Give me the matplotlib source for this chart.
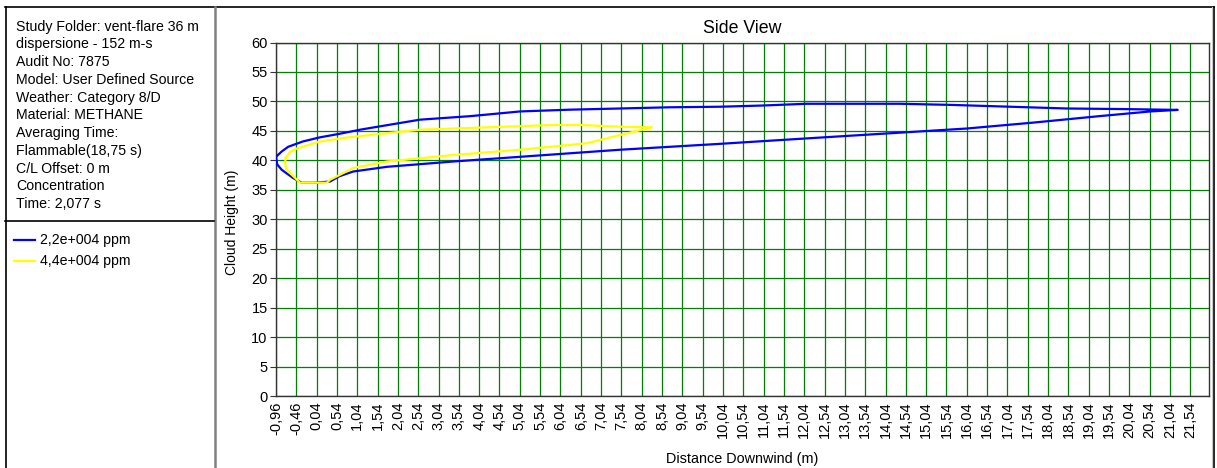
import numpy as np
import matplotlib
matplotlib.use("Agg")
import matplotlib.pyplot as plt
from matplotlib.lines import Line2D

plt.rcParams['font.family'] = ['Liberation Sans', 'DejaVu Sans']

# Study info shown in the side panel
info_lines = [
    "Study Folder: vent-flare 36 m",
    "dispersione - 152 m-s",
    "Audit No: 7875",
    "Model: User Defined Source",
    "Weather: Category 8/D",
    "Material: METHANE",
    "Averaging Time:",
    "Flammable(18,75 s)",
    "C/L Offset: 0 m",
    "Concentration",
    "Time: 2,077 s",
]

# Concentration contours (distance downwind, cloud height), closed outlines
labels = ["2,2e+004 ppm", "4,4e+004 ppm"]
colors = ["#0000ff", "#ffff00"]

x_22k = [-0.96, -0.82, -0.66, -0.30, 0.12, 0.60, 1.11, 1.80, 2.58, 3.82, 5.05, 6.28,
         7.51, 8.70, 9.97, 11.00, 12.10, 14.40, 15.70, 17.10, 18.50, 19.90, 21.23,
         20.56, 19.30, 17.67, 16.04, 14.40, 12.75, 11.12, 9.97, 7.51, 5.05, 3.40,
         1.77, 0.94, 0.60, 0.37, 0.00, -0.33, -0.54, -0.82, -0.93, -0.96]
y_22k = [40.6, 41.5, 42.3, 43.2, 43.9, 44.5, 45.2, 46.0, 46.9, 47.5, 48.3, 48.6,
         48.8, 49.0, 49.1, 49.3, 49.6, 49.6, 49.4, 49.1, 48.8, 48.7, 48.56,
         48.3, 47.5, 46.4, 45.4, 44.7, 44.0, 43.3, 42.8, 41.8, 40.6, 39.8,
         38.9, 38.1, 37.3, 36.4, 36.2, 36.2, 37.0, 38.4, 39.3, 40.6]

x_44k = [-0.72, -0.60, -0.45, 0.12, 0.70, 1.35, 2.58, 4.23, 5.86, 6.52, 7.51, 8.29,
         7.51, 6.69, 5.05, 3.40, 1.77, 0.94, 0.60, 0.37, 0.29, -0.37, -0.55, -0.70,
         -0.74, -0.72]
y_44k = [40.5, 41.5, 42.0, 43.2, 43.8, 44.3, 45.2, 45.6, 46.0, 46.0, 45.7, 45.6,
         44.3, 42.9, 41.8, 40.9, 39.8, 38.7, 37.5, 36.7, 36.2, 36.2, 37.4, 38.4,
         39.5, 40.5]

x_ticks = np.arange(-0.96, 21.55, 0.5)
y_ticks = np.arange(0, 61, 5)

W, H = 1217, 468
fig = plt.figure(figsize=(W / 100, H / 100), dpi=100)


def fx(px):
    return px / W


def fy(py):
    return 1 - py / H


# panel frames
fig.add_artist(Line2D([fx(5), fx(1214)], [fy(6.5), fy(6.5)], color="black", lw=1.2))
fig.add_artist(Line2D([fx(5.5), fx(5.5)], [fy(6.5), 0], color="black", lw=1.2))
fig.add_artist(Line2D([fx(1214), fx(1214)], [fy(6.5), 0], color="black", lw=1.2))
fig.add_artist(Line2D([fx(1212), fx(1212)], [fy(7), 0], color="#c8c8c8", lw=0.8))
fig.add_artist(Line2D([fx(214.5), fx(214.5)], [fy(7), 0], color="#808080", lw=1.8))
fig.add_artist(Line2D([fx(5), fx(214)], [fy(221), fy(221)], color="black", lw=1.2))

for i, line in enumerate(info_lines):
    fig.text(fx(16), fy(26.7 + i * 17.75), line, fontsize=10.2, va="center", ha="left")

for i, (lab, col) in enumerate(zip(labels, colors)):
    yy = 240 + i * 21
    fig.add_artist(Line2D([fx(14), fx(35)], [fy(yy), fy(yy)], color=col, lw=1.6))
    fig.text(fx(40), fy(yy), lab, fontsize=10.2, va="center", ha="left")

ax = fig.add_axes([fx(276), fy(396), fx(1209 - 276), (396 - 42.5) / H])
ax.plot(x_22k, y_22k, color=colors[0], lw=1.6, zorder=3)
ax.plot(x_44k, y_44k, color=colors[1], lw=1.6, zorder=4)

ax.set_xlim(-0.96, 22.0)
ax.set_ylim(0, 60)
ax.set_xticks(x_ticks)
ax.set_xticklabels([f"{v:.2f}".replace(".", ",") for v in x_ticks], rotation=90, fontsize=10.5)
ax.set_yticks(y_ticks)
ax.set_yticklabels([str(v) for v in y_ticks], fontsize=10.5)
ax.tick_params(axis="x", length=0, pad=4)
ax.tick_params(axis="y", length=4, width=0.8, color="#333333", pad=2)
ax.grid(True, color="#008000", lw=0.9, zorder=1)
ax.set_axisbelow(True)
for s in ax.spines.values():
    s.set_color("#333333")
    s.set_linewidth(1.0)

ax.set_title("Side View", fontsize=12.8, pad=7)
fig.text(fx(742), fy(459), "Distance Downwind (m)", fontsize=10.4, ha="center", va="center")
fig.text(fx(232), fy(222), "Cloud Height (m)", fontsize=10, ha="center", va="center",
         rotation=90)

fig.savefig("out.png", dpi=100)
